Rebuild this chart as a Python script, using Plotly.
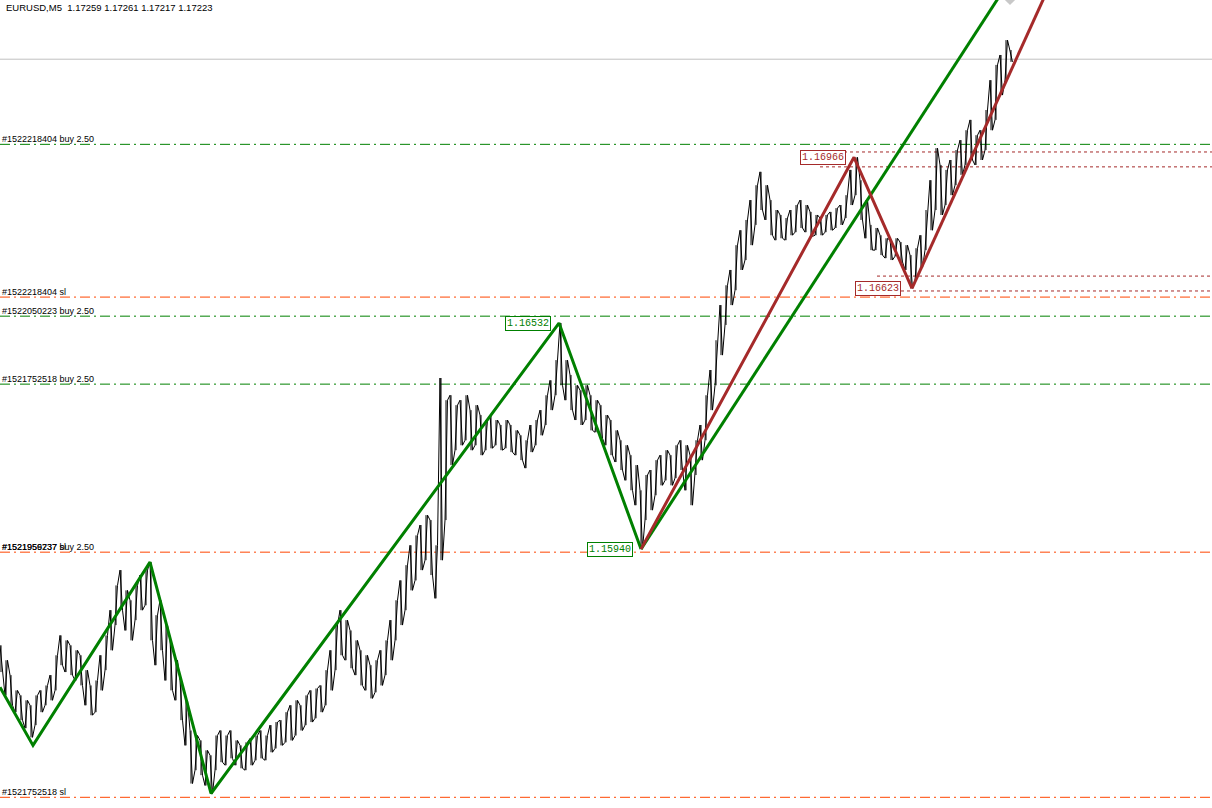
import numpy as np
import plotly.graph_objects as go

# ---------------- data ----------------
SYMBOL = "EURUSD,M5"
LAST_OHLC = ["1.17259", "1.17261", "1.17217", "1.17223"]
BID = 1.17223

bar_index = list(range(0, 1011, 5))
bar_high = [
    1.15688, 1.15649, 1.15610, 1.15570, 1.15557, 1.15544, 1.15531, 1.15557, 1.15570, 1.15583,
    1.15610, 1.15662, 1.15714, 1.15701, 1.15688, 1.15675, 1.15662, 1.15623, 1.15583, 1.15596,
    1.15662, 1.15714, 1.15780, 1.15845, 1.15885, 1.15832, 1.15806, 1.15845, 1.15872, 1.15885,
    1.15906, 1.15767, 1.15806, 1.15741, 1.15701, 1.15649, 1.15596, 1.15544, 1.15465, 1.15452,
    1.15439, 1.15413, 1.15400, 1.15452, 1.15465, 1.15452, 1.15465, 1.15439, 1.15426, 1.15434,
    1.15444, 1.15452, 1.15465, 1.15452, 1.15479, 1.15487, 1.15492, 1.15513, 1.15531, 1.15544,
    1.15531, 1.15557, 1.15570, 1.15575, 1.15583, 1.15623, 1.15675, 1.15741, 1.15780, 1.15754,
    1.15727, 1.15701, 1.15675, 1.15662, 1.15636, 1.15649, 1.15675, 1.15701, 1.15754, 1.15806,
    1.15858, 1.15898, 1.15950, 1.15976, 1.16003, 1.16029, 1.16016, 1.15950, 1.16388, 1.16330,
    1.16343, 1.16317, 1.16330, 1.16343, 1.16304, 1.16317, 1.16291, 1.16278, 1.16291, 1.16278,
    1.16265, 1.16278, 1.16265, 1.16251, 1.16238, 1.16225, 1.16265, 1.16278, 1.16304, 1.16343,
    1.16382, 1.16435, 1.16532, 1.16435, 1.16396, 1.16369, 1.16356, 1.16369, 1.16343, 1.16330,
    1.16317, 1.16291, 1.16278, 1.16251, 1.16225, 1.16212, 1.16186, 1.16160, 1.16094, 1.16134,
    1.16147, 1.16173, 1.16186, 1.16199, 1.16186, 1.16212, 1.16225, 1.16212, 1.16186, 1.16225,
    1.16265, 1.16343, 1.16409, 1.16487, 1.16579, 1.16631, 1.16671, 1.16736, 1.16775, 1.16802,
    1.16854, 1.16893, 1.16928, 1.16893, 1.16854, 1.16828, 1.16815, 1.16807, 1.16828, 1.16841,
    1.16854, 1.16841, 1.16823, 1.16815, 1.16807, 1.16815, 1.16823, 1.16833, 1.16841, 1.16867,
    1.16933, 1.16966, 1.16906, 1.16854, 1.16789, 1.16781, 1.16762, 1.16754, 1.16749, 1.16754,
    1.16744, 1.16736, 1.16710, 1.16728, 1.16762, 1.16828, 1.16906, 1.16990, 1.16946, 1.16933,
    1.16959, 1.16985, 1.17011, 1.17037, 1.17064, 1.17024, 1.17037, 1.17090, 1.17168, 1.17208,
    1.17234, 1.17273, 1.17247,
]
bar_low = [
    1.15618, 1.15557, 1.15531, 1.15513, 1.15492, 1.15471, 1.15447, 1.15479, 1.15513, 1.15531,
    1.15544, 1.15570, 1.15636, 1.15618, 1.15610, 1.15596, 1.15583, 1.15531, 1.15505, 1.15513,
    1.15570, 1.15623, 1.15675, 1.15741, 1.15780, 1.15727, 1.15701, 1.15754, 1.15780, 1.15793,
    1.15701, 1.15636, 1.15675, 1.15596, 1.15570, 1.15544, 1.15492, 1.15426, 1.15326, 1.15361,
    1.15348, 1.15321, 1.15300, 1.15361, 1.15382, 1.15374, 1.15392, 1.15374, 1.15366, 1.15361,
    1.15374, 1.15387, 1.15392, 1.15387, 1.15408, 1.15418, 1.15426, 1.15434, 1.15439, 1.15452,
    1.15465, 1.15479, 1.15487, 1.15497, 1.15513, 1.15531, 1.15570, 1.15623, 1.15662, 1.15649,
    1.15628, 1.15610, 1.15583, 1.15570, 1.15549, 1.15565, 1.15583, 1.15610, 1.15649, 1.15701,
    1.15741, 1.15780, 1.15832, 1.15858, 1.15885, 1.15911, 1.15872, 1.15811, 1.15911, 1.16016,
    1.16160, 1.16199, 1.16212, 1.16225, 1.16199, 1.16212, 1.16186, 1.16199, 1.16204, 1.16212,
    1.16199, 1.16204, 1.16194, 1.16186, 1.16173, 1.16152, 1.16194, 1.16212, 1.16238, 1.16265,
    1.16304, 1.16343, 1.16369, 1.16330, 1.16304, 1.16278, 1.16265, 1.16278, 1.16251, 1.16246,
    1.16230, 1.16212, 1.16186, 1.16168, 1.16147, 1.16120, 1.16094, 1.16055, 1.15940, 1.16016,
    1.16042, 1.16081, 1.16107, 1.16120, 1.16107, 1.16126, 1.16147, 1.16094, 1.16055, 1.16134,
    1.16173, 1.16225, 1.16304, 1.16369, 1.16448, 1.16527, 1.16579, 1.16618, 1.16671, 1.16697,
    1.16736, 1.16789, 1.16828, 1.16802, 1.16762, 1.16749, 1.16754, 1.16749, 1.16762, 1.16770,
    1.16781, 1.16770, 1.16759, 1.16762, 1.16762, 1.16770, 1.16775, 1.16781, 1.16789, 1.16807,
    1.16841, 1.16867, 1.16802, 1.16754, 1.16723, 1.16723, 1.16710, 1.16702, 1.16697, 1.16707,
    1.16692, 1.16671, 1.16623, 1.16644, 1.16676, 1.16723, 1.16775, 1.16828, 1.16815, 1.16841,
    1.16867, 1.16893, 1.16920, 1.16946, 1.16959, 1.16946, 1.16959, 1.16985, 1.17037, 1.17064,
    1.17129, 1.17168, 1.17216,
]

# zigzag swing points (bar index, price)
zz_green_idx = [0, 33, 150, 211, 559, 641]
zz_green_px = [1.15578, 1.15426, 1.15906, 1.15300, 1.16532, 1.15940]
zz_red_idx = [641, 854, 912]
zz_red_px = [1.15940, 1.16966, 1.16623]

# trend lines (two anchor points each, extended to the right)
trend_green_idx = [641, 997]
trend_green_px = [1.15940, 1.17378]
trend_red_idx = [912, 1043]
trend_red_px = [1.16623, 1.17378]

# price labels at swing points
swing_lbl_idx = [559, 641, 854, 912]
swing_lbl_px = [1.16532, 1.15940, 1.16966, 1.16623]
swing_lbl_kind = ["green", "green", "red", "red"]

# order lines
order_labels = ["#1522218404 buy 2.50", "#1522218404 sl", "#1522050223 buy 2.50",
                "#1521752518 buy 2.50", "#1521956737 buy 2.50", "#1521959237 sl",
                "#1521752518 sl"]
order_levels = [1.17000, 1.16600, 1.16550, 1.16372, 1.15932, 1.15932, 1.15290]
order_kind = ["buy", "sl", "buy", "buy", "buy", "sl", "sl"]

# dotted pending levels
dotted_levels = [1.16980, 1.16941, 1.16655, 1.16616]
dotted_start = [820, 820, 877, 877]

arrow_idx = [1010]
arrow_px = [1.17380]

# ---------------- style ----------------
GREEN = "#008000"
BROWN = "#A52A2A"
ORANGE = "#FF4500"
Y_RANGE = [1.15262, 1.17378]
X_RANGE = [0, 1212]
W, H = 1212, 808

fig = go.Figure()

# order lines (skip a buy line hidden under a stop line at the same level)
sl_levels = {lvl for lvl, k in zip(order_levels, order_kind) if k == "sl"}
for lvl, kind in zip(order_levels, order_kind):
    if kind == "buy" and lvl in sl_levels:
        continue
    fig.add_shape(type="line", xref="paper", x0=0, x1=1, yref="y", y0=lvl, y1=lvl,
                  line=dict(color=GREEN if kind == "buy" else ORANGE, width=1,
                            dash="10px,4px,2px,4px"), layer="below")
for lvl, x0 in zip(dotted_levels, dotted_start):
    fig.add_shape(type="line", xref="x", x0=x0, x1=X_RANGE[1], yref="y", y0=lvl, y1=lvl,
                  line=dict(color=BROWN, width=1, dash="3px,3px"), layer="below")
# bid line
fig.add_shape(type="line", xref="paper", x0=0, x1=1, yref="y", y0=BID, y1=BID,
              line=dict(color="#C0C0C0", width=1), layer="below")

# price path: each bar's high then its low slightly later in the bar
px_x, px_y = [], []
for i, (x, h, l) in enumerate(zip(bar_index, bar_high, bar_low)):
    if i % 2 == 0:
        px_x += [x, x + 2.5]
        px_y += [h, l]
    else:
        px_x += [x, x + 2.5]
        px_y += [l, h]
fig.add_trace(go.Scatter(x=px_x, y=px_y, mode="lines",
                         line=dict(color="black", width=1), hoverinfo="skip"))
# vertical high-low strokes
vx, vy = [], []
for x, h, l in zip(bar_index, bar_high, bar_low):
    vx += [x + 1, x + 1, None]
    vy += [h, l, None]
fig.add_trace(go.Scatter(x=vx, y=vy, mode="lines",
                         line=dict(color="black", width=1), hoverinfo="skip"))


def extend(idx, px, x_end):
    slope = (px[1] - px[0]) / (idx[1] - idx[0])
    return [idx[0], x_end], [px[0], px[0] + slope * (x_end - idx[0])]


gx, gy = extend(trend_green_idx, trend_green_px, X_RANGE[1])
rx, ry = extend(trend_red_idx, trend_red_px, X_RANGE[1])
fig.add_trace(go.Scatter(x=gx, y=gy, mode="lines", line=dict(color=GREEN, width=3)))
fig.add_trace(go.Scatter(x=rx, y=ry, mode="lines", line=dict(color=BROWN, width=3)))
fig.add_trace(go.Scatter(x=zz_green_idx, y=zz_green_px, mode="lines",
                         line=dict(color=GREEN, width=3)))
fig.add_trace(go.Scatter(x=zz_red_idx, y=zz_red_px, mode="lines",
                         line=dict(color=BROWN, width=3)))
fig.add_trace(go.Scatter(x=arrow_idx, y=arrow_px, mode="markers", cliponaxis=True,
                         marker=dict(symbol="diamond", size=9, color="#C8C8C8")))

# order labels
for lbl, lvl in zip(order_labels, order_levels):
    fig.add_annotation(xref="paper", x=0, xanchor="left", yref="y", y=lvl, yanchor="bottom",
                       yshift=-2, text=lbl, showarrow=False,
                       font=dict(family="Liberation Sans", size=9, color="black"))

# swing price labels
for xi, pv, kind in zip(swing_lbl_idx, swing_lbl_px, swing_lbl_kind):
    c = GREEN if kind == "green" else BROWN
    shift = -11 if xi == 912 else -8
    fig.add_annotation(x=xi, xshift=shift, xanchor="right", y=pv,
                       yanchor="middle", text=f"{pv:.5f}", showarrow=False,
                       bgcolor="white", bordercolor=c, borderwidth=1, borderpad=1,
                       font=dict(family="Liberation Mono", size=10, color=c))

# header
fig.add_annotation(xref="paper", x=4 / W, xanchor="left", yref="paper", y=1 - 0.5 / H,
                   yanchor="top", showarrow=False,
                   text=SYMBOL + "  " + " ".join(LAST_OHLC),
                   font=dict(family="Liberation Sans", size=9.5, color="black"))

fig.update_layout(width=W, height=H, margin=dict(l=0, r=0, t=0, b=0),
                  paper_bgcolor="white", plot_bgcolor="white", showlegend=False,
                  xaxis=dict(range=X_RANGE, visible=False, fixedrange=True),
                  yaxis=dict(range=Y_RANGE, visible=False, fixedrange=True))

fig.write_html("out.html", config={"displayModeBar": False},
               post_script="document.body.style.margin='0';")
